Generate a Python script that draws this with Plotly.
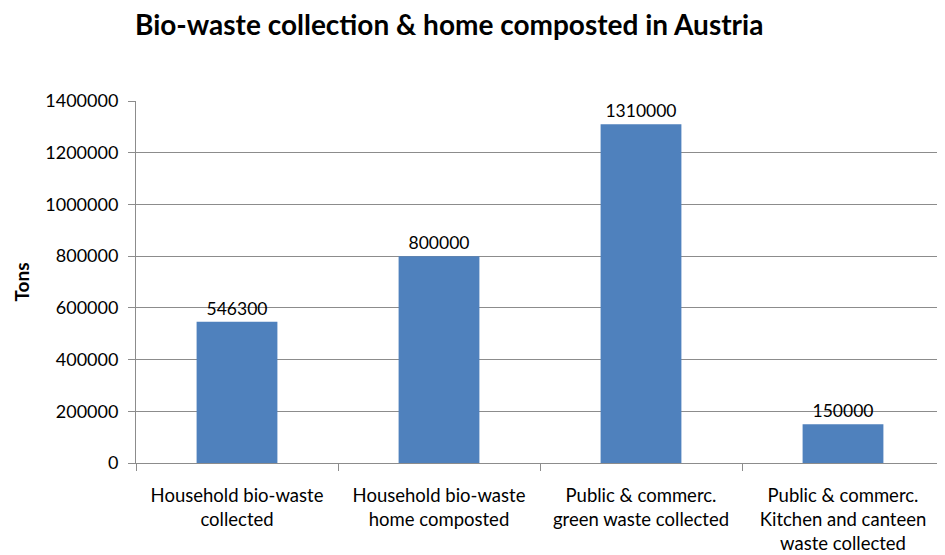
import plotly.graph_objects as go

categories = [
    'Household bio-waste<br>collected',
    'Household bio-waste<br>home composted',
    'Public &amp; commerc.<br>green waste collected',
    'Public &amp; commerc.<br>Kitchen and canteen<br>waste collected',
]
tons = [546300, 800000, 1310000, 150000]
y_ticks = [0, 200000, 400000, 600000, 800000, 1000000, 1200000, 1400000]

fig = go.Figure(go.Bar(
    x=categories,
    y=tons,
    marker_color='#4F81BD',
    marker_line_width=0,
    text=[str(v) for v in tons],
    textposition='outside',
    textfont=dict(size=17.5, color='#000000'),
    cliponaxis=False,
))

# the page body adds 8px, so the figure is sized to fill the rest of the window
fig.update_layout(
    width=937, height=547,
    title=dict(text='<b>Bio-waste collection &amp; home composted in Austria</b>',
               x=0.1355, xanchor='left', y=0.968, yanchor='middle',
               font=dict(size=28, color='#000000')),
    font=dict(family='Lato, Carlito, sans-serif', color='#000000'),
    paper_bgcolor='white', plot_bgcolor='white',
    margin=dict(l=128, r=1, t=93, b=92),
    bargap=0.6,
    showlegend=False,
)
fig.update_yaxes(
    range=[0, 1400000], tickvals=y_ticks, ticktext=[str(v) for v in y_ticks],
    showgrid=True, gridcolor='#8C8C8C', gridwidth=1,
    showline=True, linecolor='#8C8C8C', ticks='outside', ticklen=7, tickcolor='#8C8C8C',
    tickfont=dict(size=18), zeroline=False, ticklabelstandoff=6,
    title=dict(text='<b>Tons</b>', font=dict(size=19), standoff=10),
)
fig.update_xaxes(
    showline=True, linecolor='#8C8C8C', ticks='outside', tickson='boundaries',
    ticklen=7, tickcolor='#8C8C8C', tickfont=dict(size=18.5), tickangle=0,
    ticklabelstandoff=16,
)

fig.write_html('out.html')
